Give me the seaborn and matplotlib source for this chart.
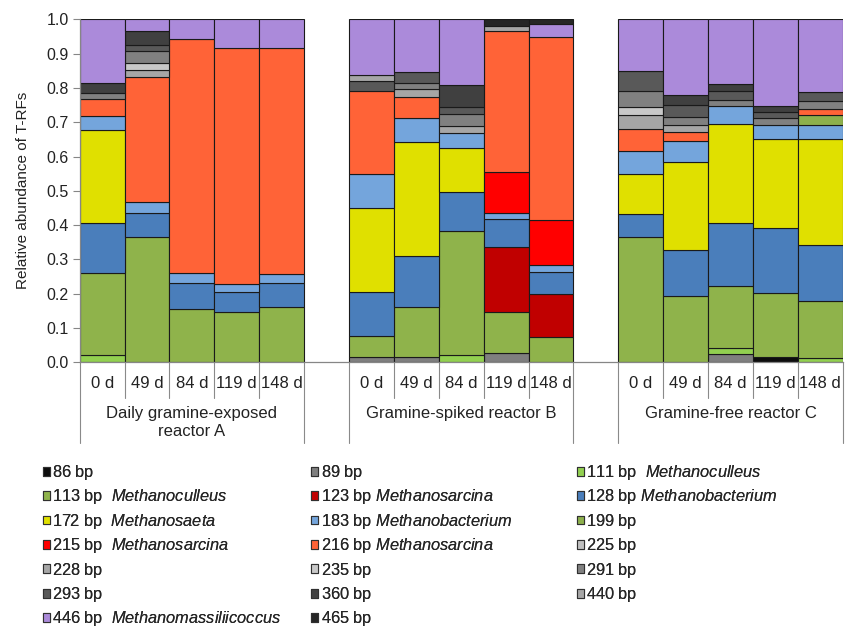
import matplotlib
matplotlib.use("Agg")
import matplotlib.pyplot as plt
import matplotlib.transforms as mtransforms
from matplotlib.patches import Patch
import numpy as np
import pandas as pd
import seaborn as sns

# ---- data -------------------------------------------------------------
days = ["0 d", "49 d", "84 d", "119 d", "148 d"]
reactors = ["Daily gramine-exposed\nreactor A", "Gramine-spiked reactor B", "Gramine-free reactor C"]
reactor_keys = ["A", "B", "C"]

trf_sizes = ["86 bp", "89 bp", "111 bp", "113 bp", "123 bp", "128 bp", "172 bp",
             "183 bp", "199 bp", "215 bp", "216 bp", "225 bp", "228 bp", "235 bp",
             "291 bp", "293 bp", "360 bp", "440 bp", "446 bp", "465 bp"]
trf_genera = ["", "", "Methanoculleus", "Methanoculleus", "Methanosarcina",
              "Methanobacterium", "Methanosaeta", "Methanobacterium", "",
              "Methanosarcina", "Methanosarcina", "", "", "", "", "", "", "",
              "Methanomassiliicoccus", ""]
trf_colors = ["#0d0d0d", "#7f7f7f", "#92d050", "#8fb34b", "#c00000", "#4a7ebb",
              "#e0e000", "#74a5dc", "#8db04c", "#ff0000", "#ff6337", "#c0c0c0",
              "#a6a6a6", "#c8c8c8", "#808080", "#595959", "#404040", "#a6a6a6",
              "#ab8ada", "#262626"]

# relative abundance per T-RF; order: reactor A (5 days), B (5 days), C (5 days)
bp86 = [0, 0, 0, 0, 0,  0, 0, 0, 0, 0,  0, 0, 0, 0.015, 0]
bp89 = [0, 0, 0, 0, 0,  0.015, 0.015, 0, 0.027, 0,  0, 0, 0.023, 0, 0]
bp111 = [0.020, 0, 0, 0, 0,  0, 0, 0.021, 0, 0,  0, 0, 0.018, 0, 0.012]
bp113 = [0.240, 0.364, 0.156, 0.148, 0.162,  0.061, 0.145, 0.361, 0.120, 0.073,
         0.364, 0.194, 0.181, 0.186, 0.167]
bp123 = [0, 0, 0, 0, 0,  0, 0, 0, 0.189, 0.126,  0, 0, 0, 0, 0]
bp128 = [0.145, 0.071, 0.076, 0.058, 0.070,  0.129, 0.150, 0.115, 0.081, 0.064,
         0.069, 0.134, 0.185, 0.190, 0.162]
bp172 = [0.271, 0, 0, 0, 0,  0.246, 0.332, 0.128, 0, 0,  0.116, 0.256, 0.287, 0.259, 0.309]
bp183 = [0.041, 0.033, 0.027, 0.021, 0.025,  0.098, 0.069, 0.043, 0.017, 0.020,
         0.066, 0.060, 0.054, 0.042, 0.041]
bp199 = [0, 0, 0, 0, 0,  0, 0, 0, 0, 0,  0, 0, 0, 0, 0.030]
bp215 = [0, 0, 0, 0, 0,  0, 0, 0, 0.121, 0.131,  0, 0, 0, 0, 0]
bp216 = [0.050, 0.364, 0.683, 0.688, 0.658,  0.241, 0.063, 0, 0.411, 0.534,
         0.065, 0.027, 0, 0, 0.018]
bp225 = [0, 0, 0, 0, 0,  0, 0, 0, 0, 0,  0, 0, 0, 0, 0]
bp228 = [0, 0.021, 0, 0, 0,  0, 0.022, 0.020, 0, 0,  0.040, 0.022, 0, 0, 0]
bp235 = [0, 0.019, 0, 0, 0,  0, 0, 0, 0, 0,  0.023, 0, 0, 0, 0]
bp291 = [0.017, 0.035, 0, 0, 0,  0, 0.017, 0.035, 0, 0,  0.047, 0.021, 0.016, 0.019, 0.022]
bp293 = [0, 0.017, 0, 0, 0,  0.031, 0.032, 0.022, 0, 0,  0.059, 0.037, 0.026, 0.018, 0.027]
bp360 = [0.029, 0.041, 0, 0, 0,  0, 0, 0.063, 0, 0,  0, 0.028, 0.021, 0.017, 0]
bp440 = [0, 0, 0, 0, 0,  0.017, 0, 0, 0.015, 0,  0, 0, 0, 0, 0]
bp446 = [0.187, 0.035, 0.058, 0.085, 0.085,  0.162, 0.155, 0.192, 0, 0.037,
         0.151, 0.221, 0.189, 0.254, 0.212]
bp465 = [0, 0, 0, 0, 0,  0, 0, 0, 0.019, 0.015,  0, 0, 0, 0, 0]

abundances = [bp86, bp89, bp111, bp113, bp123, bp128, bp172, bp183, bp199, bp215,
              bp216, bp225, bp228, bp235, bp291, bp293, bp360, bp440, bp446, bp465]

# ---- style ------------------------------------------------------------
sns.set_style("white")
plt.rcParams["font.family"] = ["Liberation Sans", "DejaVu Sans"]
plt.rcParams["mathtext.fontset"] = "custom"
plt.rcParams["mathtext.rm"] = "Liberation Sans"
plt.rcParams["mathtext.it"] = "Liberation Sans:italic"

W, H = 851, 630
fig = plt.figure(figsize=(W / 100, H / 100), dpi=100)
ax_left, ax_right, ax_top, ax_bottom = 79.7, 842.7, 19.3, 362.3
ax = fig.add_axes([ax_left / W, 1 - ax_bottom / H, (ax_right - ax_left) / W,
                   (ax_bottom - ax_top) / H])

# categorical slots: 5 samples per reactor with an empty slot between reactors
sample_slots = [f"{r}|{d}" for r in reactor_keys for d in days]
slot_order = sample_slots[:5] + ["gap1"] + sample_slots[5:10] + ["gap2"] + sample_slots[10:]

bottom = np.zeros(len(sample_slots))
for vals, col in zip(abundances, trf_colors):
    vals = np.asarray(vals, dtype=float)
    mask = vals > 0
    if mask.any():
        sub = pd.DataFrame({"slot": np.array(sample_slots)[mask], "abundance": vals[mask]})
        sns.barplot(data=sub, x="slot", y="abundance", order=slot_order, color=col,
                    saturation=1, width=1.0, bottom=bottom[mask], errorbar=None,
                    edgecolor="#1a1a1a", linewidth=0.8, ax=ax)
    bottom += vals

# ---- axes -------------------------------------------------------------
ax.set_xlim(-0.5, len(slot_order) - 0.5)
ax.set_ylim(0, 1.0)
ax.set_xticks([])
ax.set_xlabel("")
yt = np.round(np.arange(0, 1.01, 0.1), 1)
ax.set_yticks(yt)
ax.set_yticklabels([f"{v:.1f}" for v in yt], fontsize=11.5, color="#222222")
ax.tick_params(axis="y", direction="out", length=5, width=0.8, color="#868686", pad=3,
               left=True)
ax.set_ylabel("Relative abundance of T-RFs", fontsize=11, color="#222222", labelpad=12)
for s in ["top", "right"]:
    ax.spines[s].set_visible(False)
for s in ["left", "bottom"]:
    ax.spines[s].set_color("#868686")
    ax.spines[s].set_linewidth(0.9)

# multi-level category axis below the plot
ax_h = ax_bottom - ax_top
trans = mtransforms.blended_transform_factory(ax.transData, ax.transAxes)
long_drop = -(443 - ax_bottom) / ax_h
short_drop = -(398 - ax_bottom) / ax_h
group_starts = [0, 6, 12]
for g0 in group_starts:
    for k in range(6):
        xpos = g0 - 0.5 + k
        drop = long_drop if k in (0, 5) else short_drop
        ax.plot([xpos, xpos], [0, drop], transform=trans, clip_on=False,
                color="#8a8a8a", lw=0.8)
    for k, d in enumerate(days):
        ax.text(g0 + k, -(383 - ax_bottom) / ax_h, d, transform=trans,
                ha="center", va="center", fontsize=12, color="#222222")
for g0, name in zip(group_starts, reactors):
    ax.text(g0 + 2, -(406 - ax_bottom) / ax_h, name, transform=trans,
            ha="center", va="top", fontsize=12, color="#222222", linespacing=1.28)

# ---- legend (three columns, row-major reading order) --------------------
two_space_cols = {0: "  ", 1: " ", 2: "  "}
labels = []
for i, (s, g) in enumerate(zip(trf_sizes, trf_genera)):
    sep = two_space_cols[i % 3]
    if s == "128 bp":
        sep = " "
    if g:
        labels.append(s.replace(" ", r"$\ $", 0) + sep + r"$\it{" + g + "}$")
    else:
        labels.append(s.split(" ")[0] + r"$\ $bp")
handles = [Patch(facecolor=c, edgecolor="#303030", linewidth=0.8) for c in trf_colors]

col_x = [42.5, 311.0, 576.5]
for c in range(3):
    idx = list(range(c, len(trf_sizes), 3))
    leg = fig.legend([handles[i] for i in idx], [labels[i] for i in idx],
                     loc="upper left", bbox_to_anchor=(col_x[c] / W, 1 - 463 / H),
                     frameon=False, fontsize=11.8, borderpad=0, borderaxespad=0,
                     handlelength=0.45, handleheight=0.45, handletextpad=0.15,
                     labelspacing=0.33)
    fig.add_artist(leg)

fig.savefig("out.png", dpi=100, facecolor="white")
